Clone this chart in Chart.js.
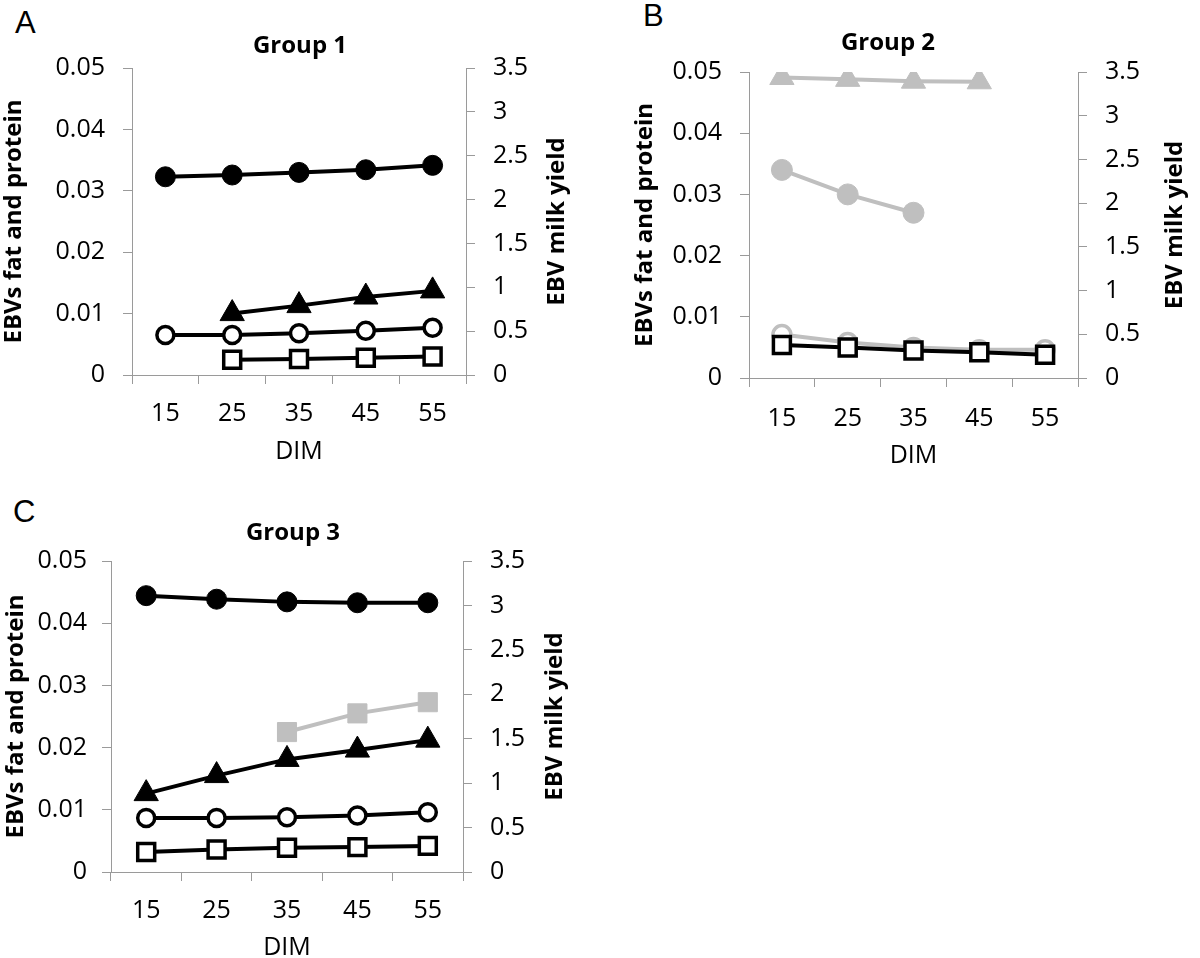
<!DOCTYPE html>
<html>
<head>
<meta charset="utf-8">
<script src="https://cdn.jsdelivr.net/npm/chart.js@4.4.1/dist/chart.umd.min.js"></script>
<style>
  html, body { margin: 0; padding: 0; background: #fff; width: 1200px; height: 958px; overflow: hidden; }
  canvas { position: absolute; }
  .tag { position: absolute; font-family: 'Liberation Sans', Arial, sans-serif; font-size: 31px; line-height: 1; color: #000; }
</style>
</head>
<body>
<div class="tag" style="left:15px;top:7px">A</div>
<div class="tag" style="left:643px;top:0px">B</div>
<div class="tag" style="left:13px;top:496px">C</div>
<canvas id="chartA" width="600" height="471" style="left:0px;top:0px"></canvas>
<canvas id="chartB" width="604" height="475" style="left:586px;top:0px"></canvas>
<canvas id="chartC" width="586" height="487" style="left:0px;top:480px"></canvas>
<script>
// days in milk
const dim = ['15', '25', '35', '45', '55'];

// Group 1
const g1Milk = [2.26, 2.28, 2.31, 2.34, 2.39];
const g1Triangle = [null, 0.0100, 0.0113, 0.0127, 0.0137];
const g1Circle = [0.0065, 0.0065, 0.0068, 0.0072, 0.0077];
const g1Square = [null, 0.0025, 0.0026, 0.0028, 0.0030];

// Group 2
const g2Square = [0.0054, 0.0050, 0.0045, 0.0042, 0.0038];
const g2GrayCircle = [0.0071, 0.0058, 0.0050, 0.0046, 0.0046];
const g2GrayMilk = [2.38, 2.10, 1.89, null, null];
const g2GrayTriangle = [0.0491, 0.0488, 0.0485, 0.0484, null];

// Group 3
const g3Milk = [3.11, 3.07, 3.04, 3.03, 3.03];
const g3GraySquare = [null, null, 0.0225, 0.0255, 0.0273];
const g3Triangle = [0.0126, 0.0155, 0.0181, 0.0196, 0.0212];
const g3Circle = [0.0087, 0.0087, 0.0088, 0.0091, 0.0096];
const g3Square = [0.0032, 0.0036, 0.0039, 0.0040, 0.0042];

const leftTicks = [0, 0.01, 0.02, 0.03, 0.04, 0.05];
const rightTicks = [0, 0.5, 1, 1.5, 2, 2.5, 3, 3.5];

Chart.defaults.font.family = "'Open Sans', sans-serif";
Chart.defaults.color = '#000';

const BLACK = '#000000';
const GRAY = '#bfbfbf';
const AXIS = '#9a9a9a';

const markers = {
  dot:        { pointStyle: 'circle',   pointRadius: 10,   fillC: BLACK, lineC: BLACK, pw: 1 },
  tri:        { pointStyle: 'triangle', pointRadius: 14,   fillC: BLACK, lineC: BLACK, pw: 1 },
  circle:     { pointStyle: 'circle',   pointRadius: 8.5,  fillC: '#fff', lineC: BLACK, pw: 3.5 },
  square:     { pointStyle: 'rect',     pointRadius: 12,   fillC: '#fff', lineC: BLACK, pw: 3.5 },
  grayDot:    { pointStyle: 'circle',   pointRadius: 10.5, fillC: GRAY, lineC: GRAY, pw: 1 },
  grayTri:    { pointStyle: 'triangle', pointRadius: 14,   fillC: GRAY, lineC: GRAY, pw: 1 },
  grayCircle: { pointStyle: 'circle',   pointRadius: 9,    fillC: '#fff', lineC: GRAY, pw: 3.5 },
  graySquare: { pointStyle: 'rect',     pointRadius: 13.5, fillC: GRAY, lineC: GRAY, pw: 1 }
};

function series(label, data, m, axis) {
  const s = markers[m];
  const gray = s.lineC === GRAY;
  return {
    label: label,
    data: data,
    yAxisID: axis,
    borderColor: gray ? GRAY : BLACK,
    borderWidth: 4,
    tension: 0,
    fill: false,
    pointStyle: s.pointStyle,
    pointRadius: s.pointRadius,
    pointHoverRadius: s.pointRadius,
    pointBackgroundColor: s.fillC,
    pointBorderColor: s.lineC,
    pointBorderWidth: s.pw
  };
}

// right axis title reads bottom-to-top, like the left one
const rightTitle = {
  id: 'rightTitle',
  afterDraw(chart, args, opts) {
    const ctx = chart.ctx;
    const area = chart.chartArea;
    ctx.save();
    ctx.translate(area.right + opts.offset, (area.top + area.bottom) / 2);
    ctx.rotate(-Math.PI / 2);
    ctx.font = "bold 24px 'Open Sans', sans-serif";
    ctx.fillStyle = '#000';
    ctx.textAlign = 'center';
    ctx.textBaseline = 'middle';
    ctx.fillText(opts.text, 0, 0);
    ctx.restore();
  }
};

function fmt(v) { return String(+v.toFixed(2)); }

function makePanel(id, title, datasets, p) {
  new Chart(document.getElementById(id), {
    type: 'line',
    data: { labels: dim, datasets: datasets },
    plugins: [rightTitle],
    options: {
      responsive: false,
      animation: false,
      events: [],
      layout: { padding: 0 },
      plugins: {
        legend: { display: false },
        tooltip: { enabled: false },
        title: {
          display: true,
          text: title,
          color: '#000',
          font: { size: 24, weight: 'bold' },
          padding: { top: p.titleTop, bottom: p.titleBottom }
        },
        rightTitle: { text: 'EBV milk yield', offset: p.rightTitleOffset }
      },
      scales: {
        x: {
          type: 'category',
          offset: true,
          grid: { offset: true, drawOnChartArea: false, tickLength: 9, color: AXIS },
          border: { color: AXIS },
          ticks: { font: { size: 25 }, color: '#000', padding: p.xPad, maxRotation: 0 },
          title: { display: true, text: 'DIM', color: '#000', font: { size: 25 }, padding: { top: 0, bottom: 4 } },
          afterFit: s => { s.height = p.xHeight; }
        },
        yL: {
          position: 'left',
          min: 0,
          max: 0.05,
          afterBuildTicks: s => { s.ticks = leftTicks.map(v => ({ value: v })); },
          ticks: { callback: v => fmt(v), font: { size: 25 }, color: '#000', padding: p.yPad },
          grid: { drawOnChartArea: false, tickLength: 9, color: AXIS },
          border: { color: AXIS },
          title: {
            display: true,
            text: 'EBVs fat and protein',
            color: '#000',
            font: { size: 24, weight: 'bold' },
            padding: { top: p.leftTitlePad, bottom: 0 }
          },
          afterFit: s => { s.width = p.leftWidth; }
        },
        yR: {
          position: 'right',
          min: 0,
          max: 3.5,
          afterBuildTicks: s => { s.ticks = rightTicks.map(v => ({ value: v })); },
          ticks: { callback: v => fmt(v), font: { size: 25 }, color: '#000', padding: 18 },
          grid: { drawOnChartArea: false, tickLength: 9, color: AXIS },
          border: { color: AXIS },
          afterFit: s => { s.width = p.rightWidth; }
        }
      }
    }
  });
}

makePanel('chartA', 'Group 1', [
  series('Milk yield', g1Milk, 'dot', 'yR'),
  series('Triangle', g1Triangle, 'tri', 'yL'),
  series('Circle', g1Circle, 'circle', 'yL'),
  series('Square', g1Square, 'square', 'yL')
], { titleTop: 32, titleBottom: 7.2, xPad: 15, xHeight: 96, yPad: 18, leftWidth: 132, rightWidth: 134, leftTitlePad: 0, rightTitleOffset: 91 });

makePanel('chartB', 'Group 2', [
  series('Square', g2Square, 'square', 'yL'),
  series('Circle (grey)', g2GrayCircle, 'grayCircle', 'yL'),
  series('Milk yield (grey)', g2GrayMilk, 'grayDot', 'yR'),
  series('Triangle (grey)', g2GrayTriangle, 'grayTri', 'yL')
], { titleTop: 28.6, titleBottom: 14.6, xPad: 17, xHeight: 97, yPad: 18, leftWidth: 163, rightWidth: 112, leftTitlePad: 45, rightTitleOffset: 97 });

makePanel('chartC', 'Group 3', [
  series('Milk yield', g3Milk, 'dot', 'yR'),
  series('Square (grey)', g3GraySquare, 'graySquare', 'yL'),
  series('Triangle', g3Triangle, 'tri', 'yL'),
  series('Circle', g3Circle, 'circle', 'yL'),
  series('Square', g3Square, 'square', 'yL')
], { titleTop: 38.6, titleBottom: 13.6, xPad: 15, xHeight: 95, yPad: 15, leftWidth: 111, rightWidth: 123, leftTitlePad: 2, rightTitleOffset: 92 });
</script>
</body>
</html>
